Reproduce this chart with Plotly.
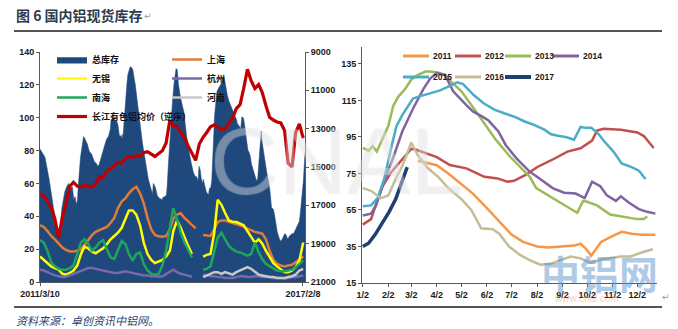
import plotly.graph_objects as go
import pandas as pd

W, H = 678, 329

# ---------------- total aluminium stock by week, one list per year (万吨) ----------------
Y2011_MD = ["03-10", "03-20", "04-02", "04-16", "05-02", "05-16", "06-02", "06-16",
            "07-02", "07-16", "08-02", "08-16", "09-02", "09-16", "09-24", "09-30",
            "10-07", "10-19", "11-01", "11-13", "11-25", "12-08", "12-24"]
Y2011 = [82, 81, 79.5, 75, 69, 64, 56, 49, 41.5, 37.5, 35, 34.5, 35, 35.5, 36.5, 34,
         30, 37.5, 40.5, 43, 42, 41.5, 41.5]

Y2012_MD = ["01-02", "01-12", "01-18", "01-26", "02-06", "02-18", "03-02", "03-08",
            "03-20", "04-02", "04-18", "05-08", "05-30", "06-15", "06-27", "07-05",
            "07-18", "08-03", "08-20", "08-30", "09-08", "09-24", "09-30", "10-08",
            "10-14", "10-22", "11-12", "12-02", "12-10", "12-22"]
Y2012 = [47, 50, 58, 68, 76, 82, 88.5, 88, 86, 84, 79.6, 77.8, 73.2, 72.3, 70.5, 71,
         74, 78.7, 82.4, 85, 87, 88.8, 90.5, 93, 98.5, 99.5, 99, 97.5, 95.5, 89]

Y2013_MD = ["01-02", "01-09", "01-14", "01-19", "01-26", "02-02", "02-08", "02-14",
            "02-22", "03-02", "03-10", "03-20", "04-02", "04-12", "04-20", "05-02",
            "05-18", "06-01", "06-13", "06-30", "07-12", "07-24", "08-01", "08-17",
            "09-03", "09-20", "09-27", "10-02", "10-14", "10-30", "11-16", "12-02",
            "12-10", "12-14"]
Y2013 = [89, 87.5, 90, 87, 94, 101, 112, 117, 121, 126.5, 129, 131, 130.5, 129, 125,
         120, 110, 100.7, 93.4, 84.3, 78.8, 73.3, 67, 62.5, 58, 53.5, 60, 59.5, 57.5,
         52.5, 51, 50, 50, 51.5]

Y2014_MD = ["01-02", "01-12", "01-18", "01-29", "02-09", "02-19", "03-04", "03-17",
            "03-25", "04-02", "04-12", "04-22", "05-08", "05-16", "05-28", "06-04",
            "06-16", "06-25", "07-08", "07-24", "08-05", "08-21", "09-04", "09-18",
            "09-29", "10-08", "10-18", "10-26", "11-06", "11-12", "11-22", "12-04",
            "12-14", "12-24"]
Y2014 = [52, 53, 57.5, 72, 85, 98, 110.5, 121.5, 127, 130, 129, 120, 112.5, 109, 106,
         104, 98, 90.5, 83.3, 76, 72.3, 67, 64.5, 64, 61.5, 70.5, 68, 63, 60, 62.5, 59,
         55.5, 54, 53]

Y2015_MD = ["01-02", "01-12", "01-20", "01-28", "02-06", "02-12", "02-19", "03-04",
            "03-10", "03-22", "04-06", "04-18", "04-27", "05-04", "05-17", "05-29",
            "06-11", "06-23", "07-06", "07-18", "07-30", "08-11", "08-19", "08-29",
            "09-06", "09-16", "09-24", "09-30", "10-07", "10-15", "10-23", "11-03",
            "11-13", "11-25", "12-04", "12-12"]
Y2015 = [57, 57.5, 61.5, 72, 90, 101, 107, 116, 117, 118.5, 120.5, 123, 125, 124, 118,
         113.5, 110, 108, 106, 103.5, 101.5, 99, 96.5, 95.5, 95, 93.5, 100.5, 100, 100,
         97, 92.5, 87, 80.5, 78.5, 76.5, 72]

Y2016_MD = ["01-02", "01-12", "01-24", "02-02", "02-12", "02-19", "03-02", "03-10",
            "03-22", "04-04", "04-16", "05-02", "05-14", "05-26", "06-09", "06-17",
            "06-29", "07-12", "07-24", "08-06", "08-18", "08-31", "09-12", "09-24",
            "10-06", "10-20", "11-12", "11-24", "12-09", "12-21"]
Y2016 = [67, 65.5, 61.5, 63, 73, 79, 92, 85, 78, 73, 67, 61, 55, 45, 44.5, 42, 35,
         30.5, 27.5, 25, 25.5, 27.5, 29.5, 28.5, 26, 28, 29.5, 29.5, 32, 33.5]

Y2017_MD = ["01-02", "01-09", "01-17", "01-25", "02-03", "02-11", "02-18", "02-25"]
Y2017 = [35, 36.8, 41.5, 47, 54, 61, 70, 78.5]

# long-run panel, 2011 segment (the seasonal 2011 line runs lower in the second half)
LONG_2011_MD = ["03-10", "03-24", "04-20", "05-23", "06-18", "07-12", "07-28", "08-10",
                "08-21", "09-06", "09-30", "10-15", "11-01", "11-15", "12-01", "12-13",
                "12-24"]
LONG_2011 = [81, 79, 76, 63, 50, 38, 31, 29, 31, 45, 55, 58, 60, 57, 58, 50, 52]

YEARS = [2011, 2012, 2013, 2014, 2015, 2016, 2017]
YEAR_COLORS = ["#F79646", "#C0504D", "#9BBB59", "#8064A2", "#4BACC6", "#C4BD97", "#1F3F6E"]

# ---------------- regional stocks, monthly from 2011-03 (万吨) ----------------
MONTHS = pd.date_range("2011-03-10", periods=72, freq=pd.DateOffset(months=1))

SHANGHAI = [34.7, 33.5, 31, 28, 26, 23.5, 21, 19.5, 18.5, 18.5,
            19, 20, 22.5, 25.5, 28.5, 30.5, 31.6, 32.5, 33.5, 36,
            39, 45, 49, 51, 54, 56.5, 58, 54, 48, 39,
            32, 28.6, 27.8, 27.6, 28, 32, 38.5, 41, 41.8, 39,
            36.7, 34.5, 32.6, None, 28.6, 28.5, 28, 32, 36.5, 37.5,
            37.5, 36.7, 36, 35.5, 34.5, 33.5, 32.5, 31.5, 30.5, 30,
            29.5, 26, 19, 13.5, 11, 10, 9.5, 10, 10.5, 12,
            14, 15.5]
WUXI = [15.5, 13.5, 12, 9.5, 8.5, 7.5, 5, 4.5, 5.5, 7,
        10, 17, 21.5, 20.5, 18.5, 17.5, 19, 20.5, 23, 26,
        28, 30, 33, 39, 43.5, 43.5, 41, 34.5, 24, 17,
        13.5, 11.5, 12.5, 13.5, 15.5, 19, 31, 37.5, 33, 27,
        22, 17, None, None, 15.5, 16.5, 17, 30, 50, 47,
        42, 37.5, 36.7, 36.5, 35.5, 34.5, 31, 27.5, 24, 26,
        23.5, 19, 15, 11.5, 9.5, 8, 6, 6, 7, 9,
        13, 24]
HANGZHOU = [7.5, 7, 6, 5, 4, 3.5, 3, 3.2, 4, 5,
            6, 6.5, 7.5, 8.5, 8.5, 8, 7.5, 7, 6.5, 6,
            5.5, 5.5, 6, 6.5, 6, 5.5, 5, 4.5, 4, 4,
            3.5, 3.5, 3.2, 3.5, 5, 6.5, 7.5, 6, 5, 4.5,
            4, 3.2, None, None, 4.5, 4, 3.5, 3.5, 3, 3,
            2.5, 2.5, 2.5, 3, 3.5, 3.5, 3, 3, 3.5, 3.5,
            3, 3, 3, 2.5, 2.5, 2.5, 2, 2.5, 3, 3,
            3.5, 4]
NANHAI = [25.5, 24, 19, 12, 9.5, 8, 7.5, 7.5, 8.5, 10,
          17, 24, 26, 23, 19, 21, 24, 25.5, 20, 15,
          14, 19.5, 25, 23, 17, 13, 17, 18, 11, 7,
          5, 4.5, 5, 10, 19, 33, 45, 38, 30, 24,
          20, 15, None, None, 7.5, 8, 9.5, 18, 27, 30,
          26, 22, 20, 18.5, 18, 17, 16, 17, 24, 18,
          14, 11, 9.5, 8, 7, 6.5, 6.5, 7, 7.5, 9,
          11, 13]
HENAN = [None] * 44 + [3, 4, 5, 6, 6, 5, 6, 5, 4.5, 6,
                       7, 8, 9, 8, 6, 4.5, 4, 3.5, 3, 3,
                       2.5, 2.5, 2.5, 3, 3.5, 4.5, 7, 8]

# 长江有色铝均价, 元/吨 (plotted on a reversed axis)
PRICE = [16400, 16500, 16800, 17100, 17700, 18700, 17600, 16900, 16000, 15800,
         16000, 16050, 15950, 16000, 16050, 15900, 15500, 15550, 15200, 15100,
         14950, 14750, 14800, 14550, 14450, 14500, 14400, 14450, 14250, 14200,
         14350, 14450, 14300, 14150, 13750, 12550, 12850, 12900, 13200, 13450,
         13900, 14300, 14650, 13800, 13450, 13200, 12900, 12800, 12900, 13050,
         13000, 12700, 12450, 11950, 11750, 10900, 9900, 10500, 10900, 10700,
         11100, 11800, 12400, 12550, 12650, 12700, 13100, 14800, 15000, 13200,
         12750, 13500]

LEFT_YTICKS = [0, 20, 40, 60, 80, 100, 120, 140]
PRICE_TICKS = [9000, 11000, 13000, 15000, 17000, 19000, 21000]
RIGHT_YTICKS = [15, 35, 55, 75, 95, 115, 135]
MONTH_TICKS = ["2001-%02d-02" % m for m in range(1, 13)]

year_md = dict(zip(YEARS, [Y2011_MD, Y2012_MD, Y2013_MD, Y2014_MD, Y2015_MD, Y2016_MD, Y2017_MD]))
year_vals = dict(zip(YEARS, [Y2011, Y2012, Y2013, Y2014, Y2015, Y2016, Y2017]))

# long-run total: own 2011 segment, then the weekly yearly series laid end to end
total_x = ["2011-" + d for d in LONG_2011_MD]
total_y = list(LONG_2011)
for yr in YEARS[1:]:
    total_x += ["%d-%s" % (yr, d) for d in year_md[yr]]
    total_y += year_vals[yr]


def px(xp):
    return xp / W


def py(yp):
    return 1 - yp / H


NAVY = "#1F497D"
TICK_FONT = dict(family="Liberation Sans", size=9, color="#1a1a1a", weight="bold")
LEG_FONT = dict(family="Noto Sans CJK SC", size=9, color="#111111", weight="bold")

fig = go.Figure()

# ---- left panel ----
fig.add_trace(go.Scatter(x=total_x, y=total_y, name="总库存", mode="lines",
                         line=dict(color=NAVY, width=0.5), fill="tozeroy", fillcolor=NAVY,
                         xaxis="x", yaxis="y", legend="legend"))
regional = [
    ("上海", SHANGHAI, "#E07B39", "legend2"),
    ("无锡", WUXI, "#FFFF00", "legend"),
    ("杭州", HANGZHOU, "#7B68A8", "legend2"),
    ("南海", NANHAI, "#1FA65A", "legend"),
    ("河南", HENAN, "#C8C8C8", "legend2"),
]
for name, vals, color, lg in regional:
    fig.add_trace(go.Scatter(x=MONTHS, y=vals, name=name, mode="lines",
                             line=dict(color=color, width=2.5), connectgaps=False,
                             xaxis="x", yaxis="y", legend=lg))
fig.add_trace(go.Scatter(x=MONTHS, y=PRICE, name="长江有色铝均价（逆序）", mode="lines",
                         line=dict(color="#C00000", width=3.2),
                         xaxis="x", yaxis="y2", legend="legend"))

# ---- right panel: seasonal comparison ----
for yr, color in zip(YEARS, YEAR_COLORS):
    fig.add_trace(go.Scatter(x=["2001-" + d for d in year_md[yr]], y=year_vals[yr],
                             name=str(yr), mode="lines",
                             line=dict(color=color, width=3.5 if yr == 2017 else 2.5),
                             xaxis="x2", yaxis="y3", showlegend=False))

axis_common = dict(showgrid=False, zeroline=False, showline=True, linecolor="#595959",
                   linewidth=1, ticks="outside", ticklen=3, tickcolor="#595959",
                   tickfont=TICK_FONT, automargin=False)

fig.update_layout(
    width=W, height=H, margin=dict(l=0, r=0, t=0, b=0, pad=0, autoexpand=False),
    paper_bgcolor="white", plot_bgcolor="white",
    xaxis=dict(domain=[px(40), px(305)], anchor="y", type="date",
               range=["2011-03-10", "2017-02-25"],
               tickvals=["2011-03-10", "2017-02-08"], tickformat="%Y/%-m/%-d", **axis_common),
    yaxis=dict(domain=[py(282), py(52)], anchor="x", range=[0, 140],
               tickvals=LEFT_YTICKS, **axis_common),
    yaxis2=dict(overlaying="y", side="right", anchor="x", range=[21000, 9000],
                tickvals=PRICE_TICKS, tickformat="d", **axis_common),
    xaxis2=dict(domain=[px(362), px(657)], anchor="y3", type="date",
                range=["2001-01-01", "2001-12-26"], tickvals=MONTH_TICKS,
                tickformat="%-m/%-d", **axis_common),
    yaxis3=dict(domain=[py(283), py(47)], anchor="x2", range=[15, 144.3],
                tickvals=RIGHT_YTICKS, **axis_common),
    legend=dict(x=px(52), y=py(45), xanchor="left", yanchor="top", font=LEG_FONT,
                bgcolor="rgba(0,0,0,0)", tracegroupgap=0, itemwidth=30),
    legend2=dict(x=px(167), y=py(45), xanchor="left", yanchor="top", font=LEG_FONT,
                 bgcolor="rgba(0,0,0,0)", tracegroupgap=0, itemwidth=30),
)

# legend for the seasonal panel: two rows of short swatches
shapes, annos = [], []
leg_rows = [(56, [2011, 2012, 2013, 2014]), (77, [2015, 2016, 2017])]
slot_x = [403, 455, 505, 553]
for row_y, yrs in leg_rows:
    for i, yr in enumerate(yrs):
        c = YEAR_COLORS[YEARS.index(yr)]
        x0 = slot_x[i]
        shapes.append(dict(type="line", xref="paper", yref="paper",
                           x0=px(x0), x1=px(x0 + 26), y0=py(row_y), y1=py(row_y),
                           line=dict(color=c, width=4 if yr == 2017 else 3)))
        annos.append(dict(x=px(x0 + 28), y=py(row_y), xref="paper", yref="paper",
                          text=str(yr), showarrow=False, xanchor="left", yanchor="middle",
                          font=dict(family="Liberation Sans", size=8.5, color="#1a1a1a",
                                    weight="bold")))

# page rules
for yline in (31, 307):
    shapes.append(dict(type="line", xref="paper", yref="paper", x0=px(14), x1=px(662),
                       y0=py(yline), y1=py(yline), line=dict(color="#1a1a1a", width=1.5)))

outline = "rgba(195,195,195,0.4)"
annos += [
    dict(x=px(14), y=py(15), xref="paper", yref="paper", showarrow=False,
         xanchor="left", yanchor="middle", text="图 6 国内铝现货库存",
         font=dict(family="Noto Sans CJK SC", size=14, color="#2E3B4E", weight="bold")),
    dict(x=px(142), y=py(16), xref="paper", yref="paper", showarrow=False,
         xanchor="left", yanchor="middle", text="↵",
         font=dict(family="DejaVu Sans", size=9, color="#9a9a9a")),
    dict(x=px(14), y=py(320), xref="paper", yref="paper", showarrow=False,
         xanchor="left", yanchor="middle", text="资料来源：卓创资讯中铝网。",
         font=dict(family="Noto Sans CJK SC", size=11, color="#1F3F6F", style="italic")),
    dict(x=px(660), y=py(297), xref="paper", yref="paper", showarrow=False,
         xanchor="left", yanchor="middle", text="↵",
         font=dict(family="DejaVu Sans", size=9, color="#9a9a9a")),
    # watermarks
    dict(x=px(336), y=py(161), xref="paper", yref="paper", showarrow=False,
         xanchor="center", yanchor="middle", text="CNAL",
         font=dict(family="Liberation Sans", size=95, color="rgba(255,255,255,0.22)",
                   shadow="1px 0 0 %s, -1px 0 0 %s, 0 1px 0 %s, 0 -1px 0 %s"
                          % (outline, outline, outline, outline))),
    dict(x=px(599), y=py(272), xref="paper", yref="paper", showarrow=False,
         xanchor="center", yanchor="middle", text="中铝网",
         font=dict(family="Noto Sans CJK SC", size=39, color="rgba(91,150,205,0.5)",
                   weight="bold")),
    dict(x=px(586), y=py(298), xref="paper", yref="paper", showarrow=False,
         xanchor="center", yanchor="middle", text="www.cnal.com",
         font=dict(family="Liberation Sans", size=10, color="rgba(235,140,100,0.45)")),
]

fig.update_layout(shapes=shapes, annotations=annos)
fig.write_html("out.html")
